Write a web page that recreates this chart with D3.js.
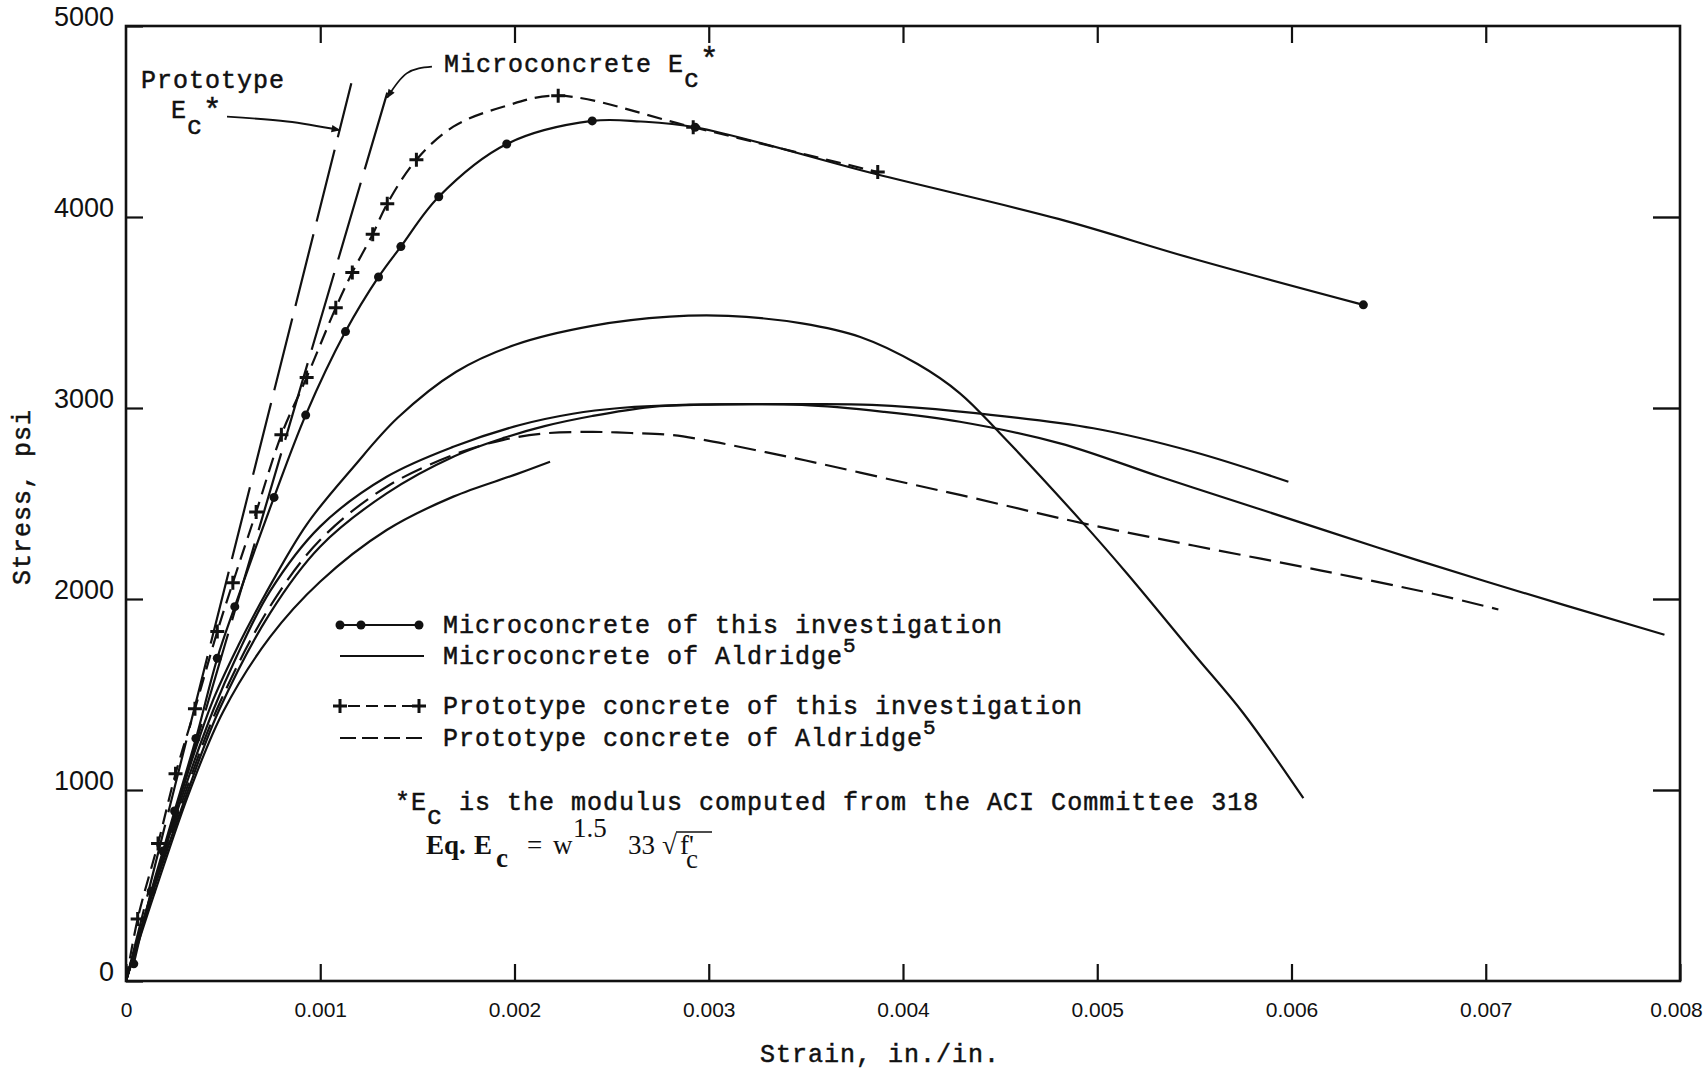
<!DOCTYPE html>
<html>
<head>
<meta charset="utf-8">
<script src="https://cdn.jsdelivr.net/npm/d3@7"></script>
<style>
  body { margin: 0; background: #fff; }
  svg { display: block; }
  .tw { font-family: "Liberation Mono", "DejaVu Sans Mono", monospace; font-size: 25px; letter-spacing: 1px; fill: #111; stroke: #111; stroke-width: 0.5px; }
  .eq { font-family: "Liberation Serif", "DejaVu Serif", serif; font-size: 27px; fill: #111; }
</style>
</head>
<body>
<svg id="chart" width="1706" height="1073"></svg>
<script>
// strain is kept in units of 0.001 in./in., stress in psi
const xTicks = [0, 1, 2, 3, 4, 5, 6, 7, 8];
const xTickLabels = ["0", "0.001", "0.002", "0.003", "0.004", "0.005", "0.006", "0.007", "0.008"];
const yTicks = [0, 1000, 2000, 3000, 4000, 5000];
const yTickLabels = ["0", "1000", "2000", "3000", "4000", "5000"];

// microconcrete of this investigation (dots + solid line)
const microDotStrain = [0.04, 0.13, 0.19, 0.25, 0.36, 0.47, 0.56, 0.762, 0.925, 1.13, 1.30, 1.415, 1.61, 1.96, 2.40, 2.93, 6.37];
const microDotStress = [90, 470, 680, 890, 1270, 1690, 1960, 2532, 2963, 3400, 3686, 3845, 4106, 4382, 4503, 4470, 3540];
const microLineStrain = [0.04, 0.13, 0.19, 0.25, 0.36, 0.47, 0.56, 0.762, 0.925, 1.13, 1.30, 1.415, 1.61, 1.96, 2.40, 2.65, 2.93, 3.86, 4.80, 5.50, 6.37];
const microLineStress = [90, 470, 680, 890, 1270, 1690, 1960, 2532, 2963, 3400, 3686, 3845, 4106, 4382, 4503, 4500, 4470, 4225, 3990, 3780, 3540];

// prototype concrete of this investigation (+ and short dashes)
const protoPlusStrain = [0.06, 0.165, 0.255, 0.355, 0.47, 0.55, 0.67, 0.80, 0.93, 1.08, 1.165, 1.27, 1.345, 1.495, 2.225, 2.92, 3.87];
const protoPlusStress = [325, 720, 1085, 1425, 1830, 2085, 2455, 2860, 3160, 3525, 3710, 3910, 4070, 4300, 4635, 4470, 4235];
const protoLineStrain = [0, 0.06, 0.165, 0.255, 0.355, 0.47, 0.55, 0.67, 0.80, 0.93, 1.08, 1.165, 1.27, 1.345, 1.495, 1.685, 1.942, 2.225, 2.92, 3.87];
const protoLineStress = [0, 325, 720, 1085, 1425, 1830, 2085, 2455, 2860, 3160, 3525, 3710, 3910, 4070, 4300, 4473, 4577, 4635, 4470, 4235];

// microconcrete of Aldridge (solid)
const aldA_strain = [0, 0.15, 0.29, 0.44, 0.58, 0.72, 0.93, 1.17, 1.40, 1.70, 2.00, 2.40, 2.80, 3.10, 3.48, 3.78, 4.075, 4.293, 4.499, 4.928, 5.152, 5.494, 5.752, 6.061];
const aldA_stress = [0, 530, 1000, 1450, 1760, 2030, 2390, 2690, 2950, 3190, 3330, 3430, 3478, 3482, 3443, 3372, 3230, 3077, 2868, 2396, 2135, 1716, 1402, 957];
const aldB_strain = [0, 0.15, 0.30, 0.45, 0.57, 0.741, 0.999, 1.342, 1.685, 2.028, 2.30, 2.543, 2.90, 3.48, 3.84, 4.293, 4.98, 5.494, 5.984];
const aldB_stress = [0, 520, 1000, 1420, 1700, 2040, 2379, 2640, 2797, 2911, 2970, 3000, 3018, 3020, 3016, 2981, 2894, 2771, 2614];
const aldC_strain = [0, 0.15, 0.32, 0.48, 0.741, 0.999, 1.342, 1.685, 1.95, 2.155, 2.40, 2.697, 3.00, 3.48, 3.90, 4.293, 4.808, 5.323, 5.838, 6.443, 7.006, 7.92];
const aldC_stress = [0, 500, 1000, 1420, 1925, 2274, 2553, 2745, 2845, 2905, 2958, 3005, 3018, 3016, 2980, 2928, 2815, 2640, 2470, 2270, 2090, 1813];
const aldS_strain = [0, 0.16, 0.33, 0.50, 0.741, 0.999, 1.342, 1.685, 2.00, 2.183];
const aldS_stress = [0, 500, 1000, 1410, 1800, 2090, 2361, 2536, 2650, 2719];

// prototype concrete of Aldridge (dashed)
const aldD_strain = [0, 0.15, 0.31, 0.48, 0.741, 0.999, 1.342, 1.70, 1.938, 2.155, 2.40, 2.60, 2.805, 3.022, 3.238, 3.50, 4.074, 4.293, 4.928, 5.494, 6.147, 6.74, 7.065];
const aldD_stress = [0, 510, 1000, 1450, 1960, 2309, 2588, 2760, 2832, 2867, 2875, 2869, 2859, 2824, 2780, 2725, 2594, 2545, 2396, 2280, 2150, 2025, 1945];

// ACI 318 modulus lines (long dashes)
const protoEcStrain = [0, 1.16];
const protoEcStress = [0, 4700];
const microEcStrain = [0, 1.365];
const microEcStress = [0, 4720];

// annotation arrows
const protoArrowStrain = [0.52, 0.83, 1.10];
const protoArrowStress = [4525, 4500, 4455];
const microArrowStrain = [1.575, 1.445, 1.345];
const microArrowStress = [4787, 4752, 4625];

const svg = d3.select("#chart");
const x = d3.scaleLinear().domain([0, 8]).range([126, 1680]);
const y = d3.scaleLinear().domain([0, 5000]).range([981, 26]);
const ink = "#111";

// axes, ticks pointing inward
svg.append("g")
  .attr("transform", "translate(0," + y(0) + ")")
  .call(d3.axisBottom(x).tickValues(xTicks).tickFormat((d, i) => xTickLabels[i])
    .tickSize(-17).tickSizeOuter(0).tickPadding(21))
  .call(g => g.select(".domain").remove())
  .call(g => g.selectAll("line").attr("stroke", ink).attr("stroke-width", 2.2))
  .call(g => g.selectAll("text").attr("fill", ink)
    .style("font-family", "'Liberation Sans', Arial, sans-serif").style("font-size", "21px"))
  .call(g => g.selectAll(".tick:last-of-type text").attr("x", -4));

svg.append("g")
  .attr("transform", "translate(" + x(0) + ",0)")
  .call(d3.axisLeft(y).tickValues(yTicks).tickFormat((d, i) => yTickLabels[i])
    .tickSize(-17).tickSizeOuter(0).tickPadding(12))
  .call(g => g.select(".domain").remove())
  .call(g => g.selectAll("line").attr("stroke", ink).attr("stroke-width", 2.2))
  .call(g => g.selectAll("text").attr("fill", ink).attr("y", -9)
    .style("font-family", "'Liberation Sans', Arial, sans-serif").style("font-size", "27px"));

svg.append("g")
  .attr("transform", "translate(0," + y(5000) + ")")
  .call(d3.axisTop(x).tickValues(xTicks.slice(1, -1)).tickFormat("").tickSize(-17).tickSizeOuter(0))
  .call(g => g.select(".domain").remove())
  .call(g => g.selectAll("line").attr("stroke", ink).attr("stroke-width", 2.2));

svg.append("g")
  .attr("transform", "translate(" + x(8) + ",0)")
  .call(d3.axisRight(y).tickValues(yTicks.slice(1, -1)).tickFormat("").tickSize(-27).tickSizeOuter(0))
  .call(g => g.select(".domain").remove())
  .call(g => g.selectAll("line").attr("stroke", ink).attr("stroke-width", 2.4));

svg.append("rect")
  .attr("x", x(0)).attr("y", y(5000))
  .attr("width", x(8) - x(0)).attr("height", y(0) - y(5000))
  .attr("fill", "none").attr("stroke", ink).attr("stroke-width", 2.6);

// axis titles
svg.append("text").attr("class", "tw")
  .attr("transform", "translate(30," + 497 + ") rotate(-90)")
  .attr("text-anchor", "middle")
  .text("Stress, psi");
svg.append("text").attr("class", "tw")
  .attr("x", 880).attr("y", 1062)
  .attr("text-anchor", "middle")
  .text("Strain, in./in.");

// curves
const smooth = d3.line().x(d => x(d[0])).y(d => y(d[1])).curve(d3.curveCatmullRom.alpha(0.5));
const straight = d3.line().x(d => x(d[0])).y(d => y(d[1]));

function curve(xs, ys, dash, gen) {
  svg.append("path")
    .datum(d3.zip(xs, ys))
    .attr("d", gen || smooth)
    .attr("fill", "none")
    .attr("stroke", ink)
    .attr("stroke-width", 2.2)
    .attr("stroke-linejoin", "round")
    .attr("stroke-dasharray", dash || null);
}

curve(protoEcStrain, protoEcStress, "74,13", straight);
curve(microEcStrain, microEcStress, "80,14", straight);

curve(aldA_strain, aldA_stress);
curve(aldB_strain, aldB_stress);
curve(aldC_strain, aldC_stress);
curve(aldS_strain, aldS_stress);
curve(aldD_strain, aldD_stress, "22,9");

curve(microLineStrain, microLineStress);
curve(protoLineStrain, protoLineStress, "15,8");

const plusPath = "M-7,0H7M0,-7V7";

svg.append("g").selectAll("circle")
  .data(d3.zip(microDotStrain, microDotStress))
  .join("circle")
  .attr("cx", d => x(d[0])).attr("cy", d => y(d[1]))
  .attr("r", 4.5).attr("fill", ink);

svg.append("g").selectAll("path")
  .data(d3.zip(protoPlusStrain, protoPlusStress))
  .join("path")
  .attr("transform", d => "translate(" + x(d[0]) + "," + y(d[1]) + ")")
  .attr("d", plusPath)
  .attr("stroke", ink).attr("stroke-width", 3);

// arrows
svg.append("defs").append("marker")
  .attr("id", "head").attr("viewBox", "0 0 10 10")
  .attr("refX", 9).attr("refY", 5)
  .attr("markerWidth", 18).attr("markerHeight", 9)
  .attr("markerUnits", "userSpaceOnUse")
  .attr("orient", "auto")
  .append("path").attr("d", "M0,1L10,5L0,9Z").attr("fill", ink);

const arrowLine = d3.line().x(d => x(d[0])).y(d => y(d[1])).curve(d3.curveNatural);
[[protoArrowStrain, protoArrowStress], [microArrowStrain, microArrowStress]].forEach(([xs, ys]) => {
  svg.append("path")
    .datum(d3.zip(xs, ys))
    .attr("d", arrowLine)
    .attr("fill", "none").attr("stroke", ink).attr("stroke-width", 1.8)
    .attr("marker-end", "url(#head)");
});

// annotation labels
svg.append("text").attr("class", "tw").attr("x", 141).attr("y", 88).text("Prototype");
const ecP = svg.append("text").attr("class", "tw").attr("x", 171).attr("y", 118);
ecP.append("tspan").text("E");
ecP.append("tspan").attr("dy", 16).text("c");
ecP.append("tspan").attr("dy", -14).style("font-size", "31px").text("*");

const ecM = svg.append("text").attr("class", "tw").attr("x", 444).attr("y", 72);
ecM.append("tspan").text("Microconcrete E");
ecM.append("tspan").attr("dy", 15).text("c");
ecM.append("tspan").attr("dy", -18).style("font-size", "31px").text("*");

// legend
const lg = svg.append("g");
lg.append("line").attr("x1", 340).attr("x2", 419).attr("y1", 625).attr("y2", 625)
  .attr("stroke", ink).attr("stroke-width", 2.2);
[340, 361, 419].forEach(cx => lg.append("circle").attr("cx", cx).attr("cy", 625).attr("r", 4.5).attr("fill", ink));
lg.append("line").attr("x1", 340).attr("x2", 424).attr("y1", 656).attr("y2", 656)
  .attr("stroke", ink).attr("stroke-width", 2.2);
lg.append("line").attr("x1", 340).attr("x2", 419).attr("y1", 706).attr("y2", 706)
  .attr("stroke", ink).attr("stroke-width", 2.2).attr("stroke-dasharray", "12,6").attr("stroke-dashoffset", -8);
[340, 419].forEach(cx => lg.append("path").attr("transform", "translate(" + cx + ",706)")
  .attr("d", plusPath).attr("stroke", ink).attr("stroke-width", 3));
lg.append("line").attr("x1", 340).attr("x2", 424).attr("y1", 738).attr("y2", 738)
  .attr("stroke", ink).attr("stroke-width", 2.2).attr("stroke-dasharray", "16,6");

const legendRows = ["Microconcrete of this investigation", "Microconcrete of Aldridge",
  "Prototype concrete of this investigation", "Prototype concrete of Aldridge"];
const legendY = [633, 664, 714, 746];
const legendSup = ["", "5", "", "5"];
legendRows.forEach((t, i) => {
  const tx = lg.append("text").attr("class", "tw").attr("x", 443).attr("y", legendY[i]);
  tx.append("tspan").text(t);
  if (legendSup[i]) tx.append("tspan").attr("dy", -12).style("font-size", "21px").text(legendSup[i]);
});

// footnote
const n1 = svg.append("text").attr("class", "tw").attr("x", 395).attr("y", 810);
n1.append("tspan").text("*E");
n1.append("tspan").attr("dy", 14).text("c");
n1.append("tspan").attr("dy", -14).text(" is the modulus computed from the ACI Committee 318");

const n2 = svg.append("text").attr("class", "eq").attr("x", 426).attr("y", 854);
n2.append("tspan").style("font-weight", "bold").text("Eq.");
n2.append("tspan").attr("x", 474).style("font-weight", "bold").text("E");
n2.append("tspan").attr("dy", 13).attr("x", 496).style("font-weight", "bold").text("c");
n2.append("tspan").attr("dy", -13).attr("x", 527).text("=");
n2.append("tspan").attr("x", 553).text("w");
n2.append("tspan").attr("dy", -17).attr("x", 573).text("1.5");
n2.append("tspan").attr("dy", 17).attr("x", 628).text("33");
n2.append("tspan").attr("x", 662).text("\u221A");
n2.append("tspan").attr("x", 680).text("f'");
n2.append("tspan").attr("dy", 14).attr("x", 686).text("c");
svg.append("line").attr("x1", 676).attr("x2", 712).attr("y1", 832).attr("y2", 832)
  .attr("stroke", ink).attr("stroke-width", 1.6);
</script>
</body>
</html>
